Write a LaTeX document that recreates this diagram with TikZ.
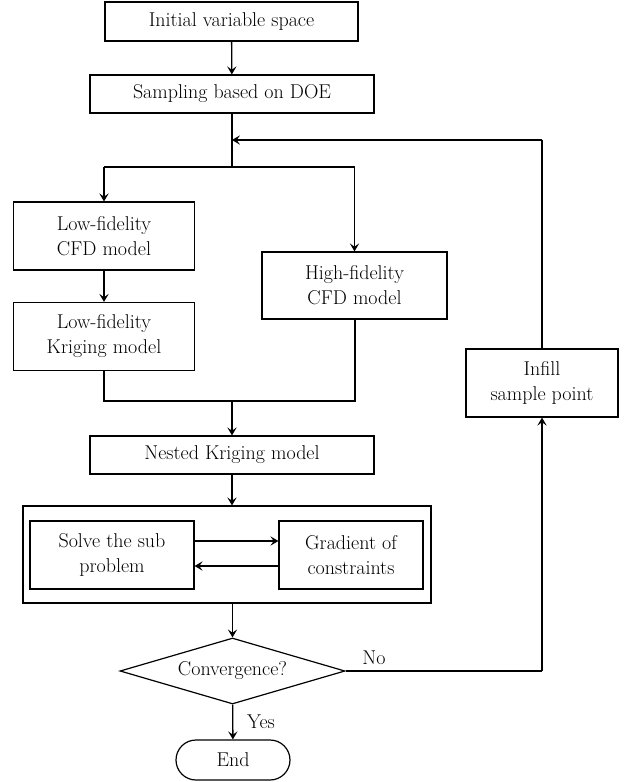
\documentclass[tikz,border=0pt]{standalone}
\usepackage{tikz}
\usetikzlibrary{calc,arrows.meta,shapes.geometric}
\def\drawflow{\draw[line width=1pt,-{Stealth[length=6pt,width=7pt,inset=2.5pt]}]}
\def\drawline{\draw[line width=1pt]}
\def\drawtrunk{\draw[line width=1.5pt]}
\def\procnode{\node[draw,line width=0.9pt,align=center,inner sep=0pt]}

\begin{document}
\begin{tikzpicture}[x=0.75pt,y=-0.75pt,font=\fontsize{15}{18.75}\selectfont]
\useasboundingbox (0,0) rectangle (625,782);

% ---------- top of the chart
\procnode (init) [minimum width=189.75pt, minimum height=29.25pt] at (231.5,21.5) {Initial variable space};
\procnode (sampling) [minimum width=213pt, minimum height=28.5pt] at (232,94) {Sampling based on DOE};
\coordinate (feedback_end) at (232,140); % where the infill loop comes back
\coordinate (split) at (232,167); % fork to the two fidelities
\coordinate (split_left) at (104,167);
\coordinate (split_right) at (354.5,167);
\drawflow (init) to (sampling);
\drawline (sampling) to (split);
\drawtrunk (split_left) to (split_right);

% ---------- the two fidelity branches
\procnode (low_cfd) [minimum width=135.75pt, minimum height=51pt] at (104,236) {Low-fidelity\\CFD model};
\procnode (low_krig) [minimum width=135.75pt, minimum height=51pt] at (104,336.5) {Low-fidelity\\Kriging model};
\procnode (high_cfd) [minimum width=138.75pt, minimum height=50.25pt] at (354.5,285.5) {High-fidelity\\CFD model};
\drawflow (split_left) to (low_cfd);
\drawflow (split_right) to (high_cfd);
\drawflow (low_cfd) to (low_krig);

% the two branches join above the nested model
\coordinate (join_left) at (104,401);
\coordinate (join_right) at (354.5,401);
\coordinate (join) at (232,401);
\drawtrunk (low_krig.south) -- (join_left) -- (join_right) -- (high_cfd.south);

\procnode (nested) [minimum width=213pt, minimum height=28.5pt] at (232,455) {Nested Kriging model};
\drawflow (join) to (nested);

% ---------- sub problem loop
\procnode (sub_loop) [minimum width=306pt, minimum height=72.75pt] at (227,554.5) {};
\procnode (solve) [minimum width=123pt, minimum height=51pt] at (112,555) {Solve the sub\\problem};
\procnode (gradient) [minimum width=108pt, minimum height=51pt] at (351,555) {Gradient of\\constraints};
\drawflow (nested.south) to (nested.south |- sub_loop.north);
\drawflow ($ (solve.east) + (0,-14) $) to ($ (gradient.west) + (0,-14) $);
\drawflow ($ (gradient.west) + (0,11) $) to ($ (solve.east) + (0,11) $);

% ---------- decision and end
\node[diamond,draw,line width=0.9pt,aspect=3.4,minimum width=168.75pt,minimum height=49.5pt,inner sep=0pt] (conv) at (232.5,671) {Convergence?};
\node[draw,line width=0.9pt,rounded corners=15pt,minimum width=85.5pt,minimum height=30pt,inner sep=0pt] (stop) at (233,760) {End};
\drawflow (conv.north |- sub_loop.south) to (conv.north);
\drawflow (conv) to (stop);
\node (yes_label) at (261,722) {Yes};

% ---------- infill loop back to the top
\procnode (infill) [minimum width=114pt, minimum height=51pt] at (542,383) {Infill\\sample point};
\coordinate (no_turn) at (542,671);
\coordinate (feedback_turn) at (542,140);
\drawline (conv.east) -- (no_turn);
\drawflow (no_turn) to (infill);
\drawline (infill) to (feedback_turn);
\drawflow (feedback_turn) to (feedback_end);
\node (no_label) at (374,658) {No};
\end{tikzpicture}
\end{document}
